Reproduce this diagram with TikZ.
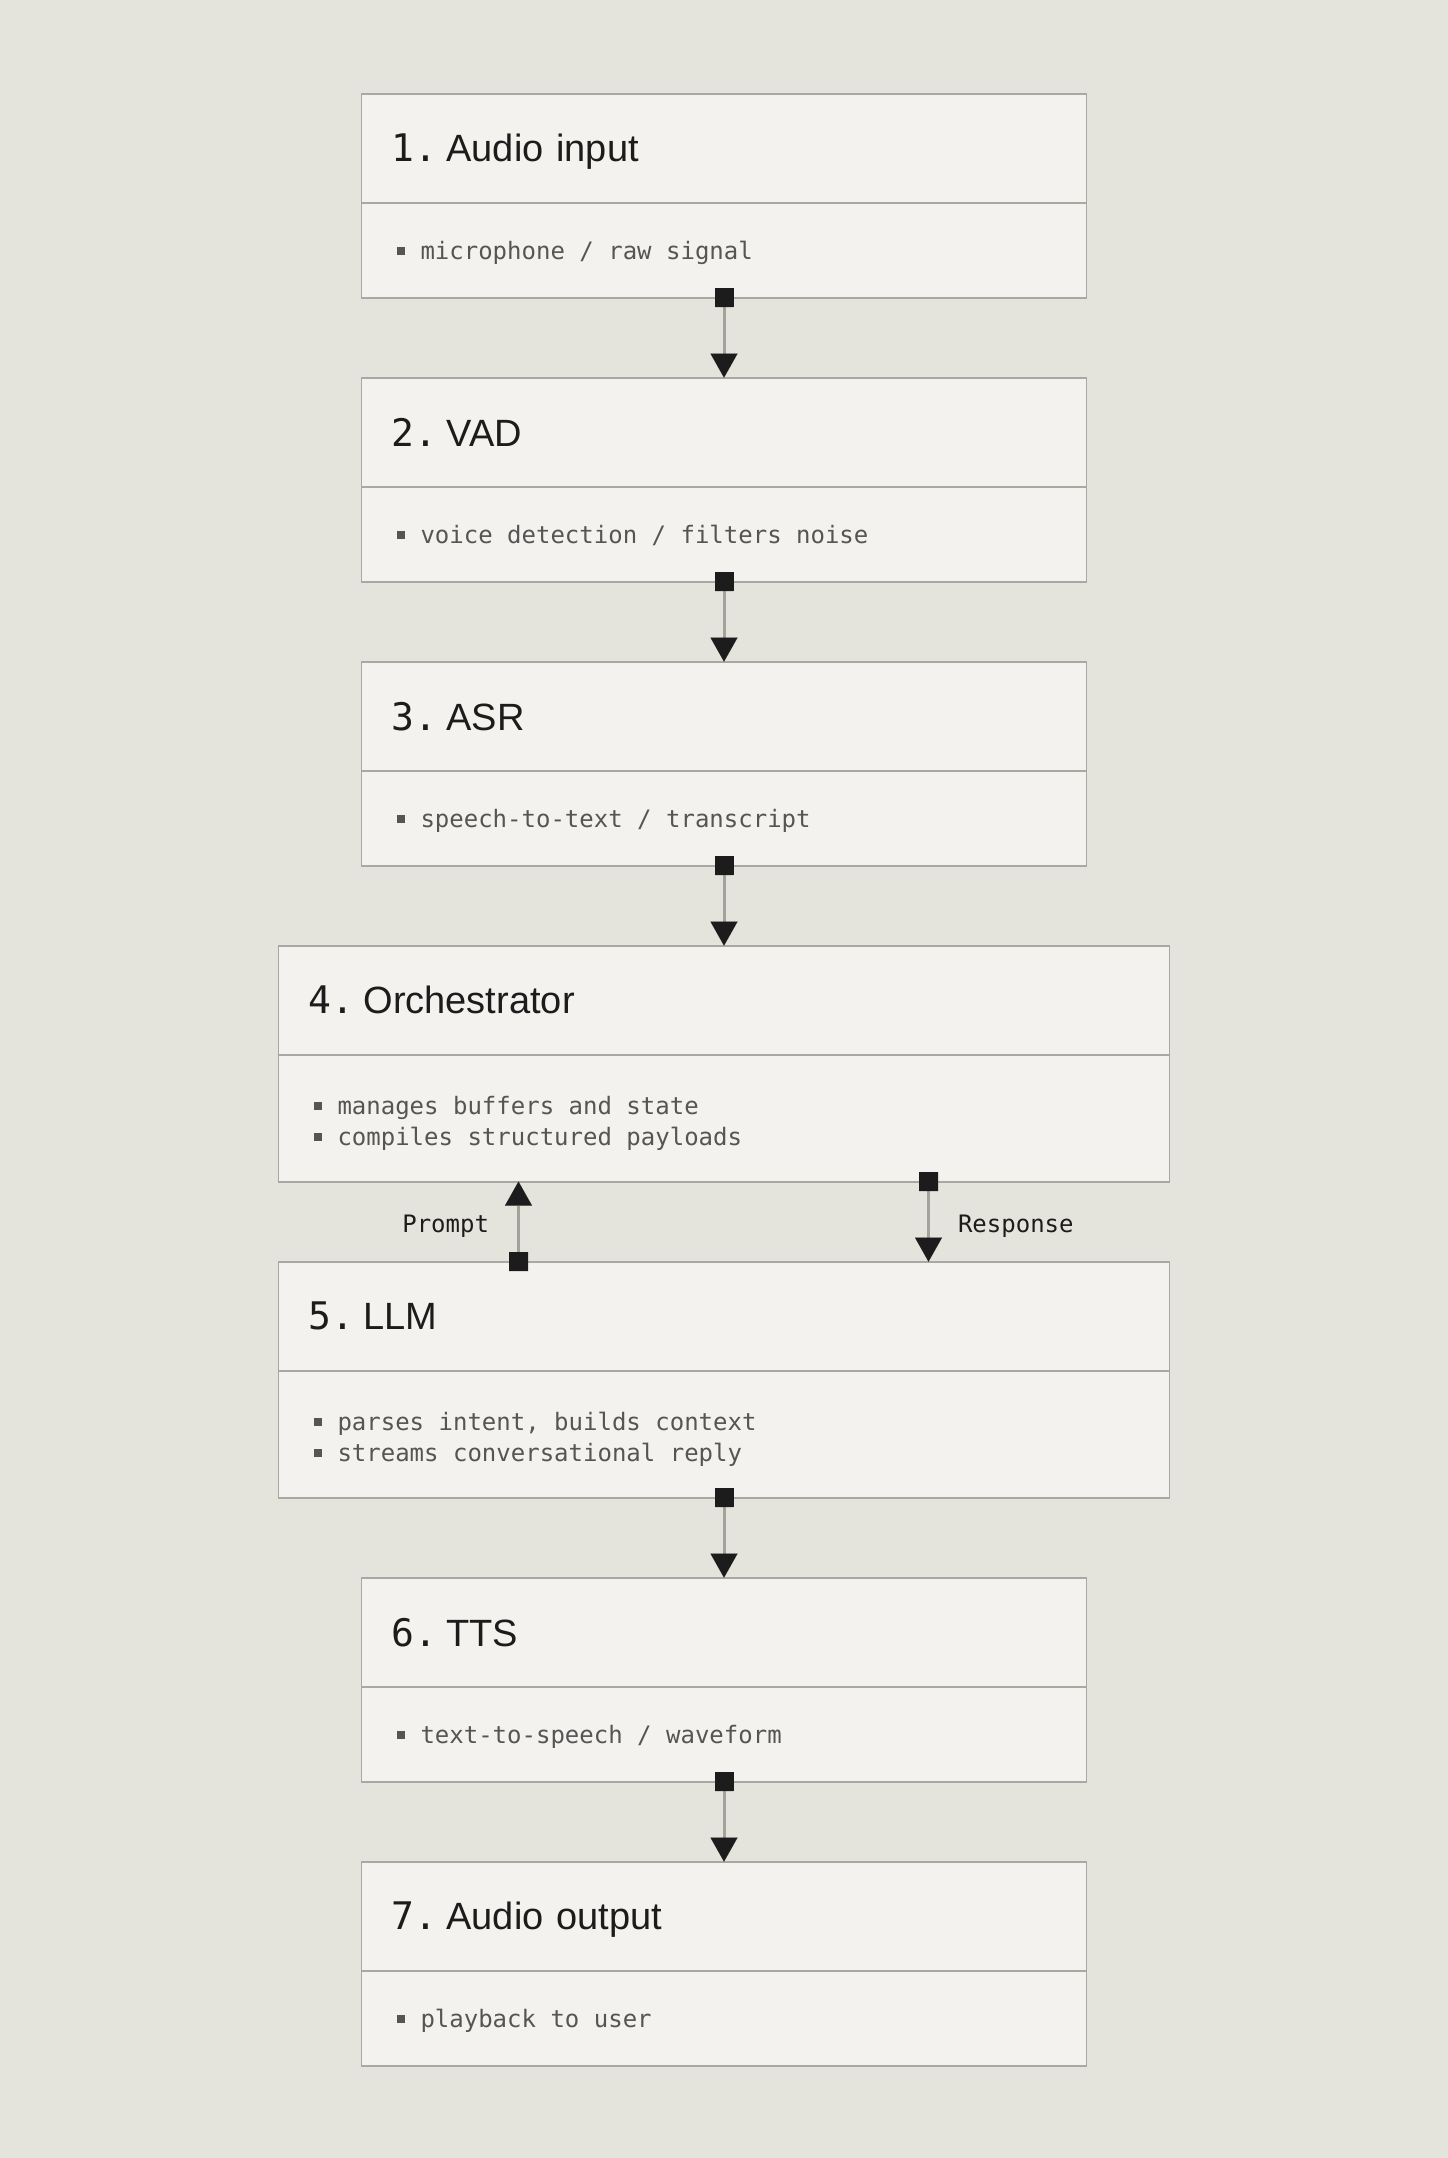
\documentclass[tikz,border=0pt]{standalone}
\usepackage{fontspec}
\setmainfont{Liberation Sans}
\setmonofont{DejaVu Sans Mono}
\usetikzlibrary{positioning,arrows.meta}

\definecolor{paper}{HTML}{E4E3DC}
\definecolor{card}{HTML}{F3F2EF}
\definecolor{edge}{HTML}{A9A8A3}
\definecolor{wire}{HTML}{A3A29D}
\definecolor{ink}{HTML}{1C1C1C}
\definecolor{note}{HTML}{555555}

\newcommand{\sno}[1]{\makebox[55pt][l]{\ttfamily #1.}}
\newcommand{\bul}{\makebox[29pt][l]{\hspace{5pt}\rule[4.5pt]{8pt}{8pt}}}
\newcommand{\ws}{\hspace{14.45pt}}
\newcommand{\monotext}{\ttfamily\fontsize{24pt}{31.5pt}\selectfont}

\begin{document}
\begin{tikzpicture}[x=1pt,y=1pt]
    \tikzstyle{box}=[draw=edge,fill=card,line width=1.8pt,outer sep=0pt,inner xsep=30pt,inner ysep=0pt,align=left]
    \tikzstyle{head}=[box,text width=665pt,minimum height=109pt,text depth=0pt,text=ink,font=\fontsize{38pt}{44pt}\selectfont]
    \tikzstyle{wide head}=[head,text width=831pt]
    \tikzstyle{body}=[box,text width=665pt,minimum height=95pt,text depth=-3pt,text=note,font=\monotext]
    \tikzstyle{wide body}=[body,text width=831pt,minimum height=127pt,text depth=26pt]
    \tikzstyle{link}=[draw=wire,line width=3pt,shorten <=-9.5pt,{Square[length=19pt,width=19pt,line width=0.01pt,color=ink]}-{Triangle[length=24pt,width=27pt,line width=0.01pt,color=ink]}]
    \tikzstyle{tag}=[font=\monotext,text=ink,inner sep=0pt,text depth=0pt,yshift=-2pt]

    \path[use as bounding box,fill=paper] (0,0) rectangle (1448,-2158);

    % Draw the stages, top to bottom
    \node[head] (H-1) at (724,-148.1) {\sno{1}Audio input};
    \node[body,below=0pt of H-1] (B-1) {\bul microphone\ws/\ws raw\ws signal};

    \node[head,below=80pt of B-1] (H-2) {\sno{2}VAD};
    \node[body,below=0pt of H-2] (B-2) {\bul voice\ws detection\ws/\ws filters\ws noise};

    \node[head,below=80pt of B-2] (H-3) {\sno{3}ASR};
    \node[body,below=0pt of H-3] (B-3) {\bul speech-to-text\ws/\ws transcript};

    \node[wide head,below=80pt of B-3] (H-4) {\sno{4}Orchestrator};
    \node[wide body,below=0pt of H-4] (B-4) {\bul manages\ws buffers\ws and\ws state\\\bul compiles\ws structured\ws payloads};

    \node[wide head,below=80pt of B-4] (H-5) {\sno{5}LLM};
    \node[wide body,below=0pt of H-5] (B-5) {\bul parses\ws intent,\ws builds\ws context\\\bul streams\ws conversational\ws reply};

    \node[head,below=80pt of B-5] (H-6) {\sno{6}TTS};
    \node[body,below=0pt of H-6] (B-6) {\bul text-to-speech\ws/\ws waveform};

    \node[head,below=80pt of B-6] (H-7) {\sno{7}Audio output};
    \node[body,below=0pt of H-7] (B-7) {\bul playback\ws to\ws user};

    % Connect each stage with the next one
    \foreach \source/\dest in {1/2,2/3,3/4,5/6,6/7}
      \draw[link] (B-\source.south) -- (H-\dest.north);

    % Orchestrator <-> LLM
    \draw[link] ([xshift=240pt]H-5.north west) -- node[tag,left=28pt] {Prompt} ([xshift=240pt]B-4.south west);
    \draw[link] ([xshift=650pt]B-4.south west) -- node[tag,right=28pt] {Response} ([xshift=650pt]H-5.north west);
\end{tikzpicture}
\end{document}
